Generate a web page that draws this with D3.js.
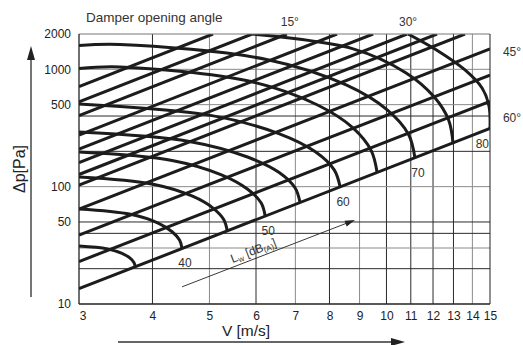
<!DOCTYPE html>
<html><head><meta charset="utf-8">
<script src="https://cdn.jsdelivr.net/npm/d3@7"></script>
<style>body{margin:0;background:#fff}svg{display:block;font-family:"Liberation Sans",Arial,sans-serif}</style>
</head><body><svg id="c" width="523" height="345"></svg>
<script>
// ---------- data ----------
const xTickValues = [3,4,5,6,7,8,9,10,11,12,13,14,15];
const yTickValues = [10,50,100,500,1000,2000];
const yGridValues = [20,30,40,50,100,200,400,500,1000];

// damper lines: Δp at V=3 and the point where each line leaves the chart
const damperAngles  = [5,10,15,20,25,30,35,40,45,50,55,60];
const damperStartDp = [714,529,404,275,209,160,127,103,64.5,38.7,23.0,13.5];
const damperEndV    = [5.07,5.91,6.77,8.24,9.49,10.84,12.19,13.6,15,15,15,15];
const damperEndDp   = [2000,2000,2000,2000,2000,2000,2000,2000,1490,894,532,313];
const labelledAngles = [15,30,45,60];

// sound power level curves Lw [dB(A)]
const lwLevels = [35,40,45,50,55,60,65,70,75,80];
const lwArcV = [
  [3,3.35,3.55,3.66,3.72,3.74],
  [3,3.67,4.09,4.32,4.45,4.49],
  [3,4.01,4.68,5.07,5.29,5.36],
  [3,4.32,5.24,5.80,6.12,6.22],
  [3,4.62,5.82,6.57,6.99,7.13],
  [3,5.00,6.56,7.57,8.15,8.34],
  [3,3.52,5.83,7.62,8.77,9.42,9.64],
  [3,3.52,6.28,8.54,10.03,10.90,11.18],
  [5.91,8.75,10.80,12.05,12.76,12.98],
  [10.88,12.24,13.60,14.54,14.94,15]
];
const lwArcDp = [
  [31.2,29.5,27.0,24.7,22.6,20.8],
  [64.5,58.1,48.9,41.3,35.0,29.8],
  [121,105,82.9,65.7,52.3,42.0],
  [197,167,126,95.5,72.9,56.1],
  [292,243,178,132,97.8,73.3],
  [506,407,283,198,139,99.5],
  [1018,1047,794,499,317,203,132],
  [1593,1628,1208,737,452,280,176],
  [2000,1502,932,583,368,231],
  [2000,1433,987,693,487,313]
];
const lwLabelLevels = [40,50,60,70,80];
const lwArrowV  = [4.49, 8.84];
const lwArrowDp = [14.0, 52.0];

// ---------- drawing ----------
const svg = d3.select('#c');
const L = 79, R = 490, T = 34, B = 304;
const x = d3.scaleLog().domain([3,15]).range([L,R]);
const y = d3.scaleLog().domain([10,2000]).range([B,T]);
const ink = '#1c1c1c';

svg.append('defs').append('clipPath').attr('id','plot')
  .append('rect').attr('x',L).attr('y',T).attr('width',R-L).attr('height',B-T);

// grid
const grayX = new Set([5,7,9,14]);
const grayY = new Set([1000,500,100,30]);
const grid = svg.append('g');
grid.selectAll('line.v').data(xTickValues.slice(1,-1)).join('line')
  .attr('x1',d=>x(d)).attr('x2',d=>x(d)).attr('y1',T).attr('y2',B)
  .attr('stroke',d=>grayX.has(d)?'#8a8a8a':'#2a2a2a').attr('stroke-width',1);
grid.selectAll('line.h').data(yGridValues).join('line')
  .attr('y1',d=>y(d)).attr('y2',d=>y(d)).attr('x1',L).attr('x2',R)
  .attr('stroke',d=>grayY.has(d)?'#8a8a8a':'#2a2a2a').attr('stroke-width',1);

// thick marks
const plot = svg.append('g').attr('clip-path','url(#plot)');
plot.selectAll('line.d').data(damperAngles).join('line')
  .attr('x1',x(3)).attr('y1',(d,i)=>y(damperStartDp[i]))
  .attr('x2',(d,i)=>x(damperEndV[i])).attr('y2',(d,i)=>y(damperEndDp[i]))
  .attr('stroke',ink).attr('stroke-width',3);

const arcLine = d3.line().x(p=>x(p[0])).y(p=>y(p[1])).curve(d3.curveCatmullRom.alpha(0.5));
plot.selectAll('path.a').data(lwLevels).join('path')
  .attr('d',(d,i)=>arcLine(lwArcV[i].map((v,j)=>[v,lwArcDp[i][j]])))
  .attr('fill','none').attr('stroke',ink).attr('stroke-width',3);

// frame
const frame = svg.append('g');
frame.append('line').attr('x1',L).attr('x2',R).attr('y1',T).attr('y2',T).attr('stroke','#777');
frame.append('line').attr('x1',R).attr('x2',R).attr('y1',T).attr('y2',B).attr('stroke','#222');
frame.append('line').attr('x1',L).attr('x2',L).attr('y1',T).attr('y2',B).attr('stroke','#222').attr('stroke-width',1.3);
frame.append('line').attr('x1',L).attr('x2',R).attr('y1',B).attr('y2',B).attr('stroke','#222').attr('stroke-width',1.3);

// axes labels
const xa = svg.append('g').attr('transform',`translate(0,${B})`)
  .call(d3.axisBottom(x).tickValues(xTickValues).tickFormat(d3.format('d')).tickSize(0).tickPadding(7));
xa.select('.domain').remove();
xa.selectAll('text').attr('font-size',12).attr('fill','#222').attr('font-family','"Liberation Sans",Arial,sans-serif')
  .attr('dx',d=>d===3?3.5:0);
const ya = svg.append('g').attr('transform',`translate(${L},0)`)
  .call(d3.axisLeft(y).tickValues(yTickValues).tickFormat(d3.format('d')).tickSize(0).tickPadding(8));
ya.select('.domain').remove();
ya.selectAll('text').attr('font-size',12).attr('fill','#222').attr('font-family','"Liberation Sans",Arial,sans-serif');

// titles
svg.append('text').attr('x',86).attr('y',22).attr('font-size',13.5).attr('fill','#333').text('Damper opening angle');
svg.append('text').attr('x',246).attr('y',336).attr('text-anchor','middle').attr('font-size',15.5).attr('fill','#222').text('V [m/s]');
svg.append('text').attr('transform','translate(25,169) rotate(-90)').attr('text-anchor','middle')
  .attr('font-size',16).attr('fill','#222').text('Δp[Pa]');

// axis arrows
svg.append('line').attr('x1',31).attr('x2',31).attr('y1',297).attr('y2',56).attr('stroke','#666').attr('stroke-width',1.8);
svg.append('path').attr('d','M31,46 L27,60 L35,60 Z').attr('fill','#222');
svg.append('line').attr('x1',118).attr('x2',394).attr('y1',342).attr('y2',342).attr('stroke','#666').attr('stroke-width',1.8);
svg.append('path').attr('d','M405,342 L391,338 L391,346 Z').attr('fill','#222');

// angle labels
const angleOffsets = {15:[3,-8],30:[1,-8],45:[22,7],60:[22,-7]};
labelledAngles.forEach(a=>{
  const i = damperAngles.indexOf(a);
  const ex = x(damperEndV[i]), ey = y(damperEndDp[i]);
  const o = angleOffsets[a];
  svg.append('text').attr('x',ex+o[0]).attr('y',ey+o[1]).attr('text-anchor','middle')
    .attr('font-size',12).attr('fill','#333').text(a+'°');
});

// Lw labels at arc ends
lwLabelLevels.forEach(l=>{
  const i = lwLevels.indexOf(l);
  const n = lwArcV[i].length-1;
  const ex = x(lwArcV[i][n]), ey = y(lwArcDp[i][n]);
  const last = l===80;
  svg.append('text').attr('x',last?ex-1:ex+3).attr('y',ey+19)
    .attr('text-anchor',last?'end':'middle').attr('font-size',12).attr('fill','#333').text(l);
});

// Lw arrow
const ax1 = x(lwArrowV[0]), ay1 = y(lwArrowDp[0]), ax2 = x(lwArrowV[1]), ay2 = y(lwArrowDp[1]);
const ang = Math.atan2(ay2-ay1, ax2-ax1);
svg.append('line').attr('x1',ax1).attr('y1',ay1).attr('x2',ax2-8*Math.cos(ang)).attr('y2',ay2-8*Math.sin(ang))
  .attr('stroke','#222').attr('stroke-width',0.9);
svg.append('path').attr('transform',`translate(${ax2},${ay2}) rotate(${ang*180/Math.PI})`)
  .attr('d','M0,0 L-10,-3 L-10,3 Z').attr('fill','#222');
const f = 0.43;
const tx = ax1+(ax2-ax1)*f, ty = ay1+(ay2-ay1)*f;
const lt = svg.append('text').attr('transform',`translate(${tx},${ty}) rotate(${ang*180/Math.PI})`)
  .attr('y',-4).attr('text-anchor','middle').attr('font-size',12).attr('fill','#333');
lt.append('tspan').text('L');
lt.append('tspan').attr('font-size',8).attr('dy',2).text('w');
lt.append('tspan').attr('dy',-2).text(' [dB');
lt.append('tspan').attr('font-size',8).attr('dy',2).text('(A)');
lt.append('tspan').attr('dy',-2).text(']');
</script>
</body></html>
